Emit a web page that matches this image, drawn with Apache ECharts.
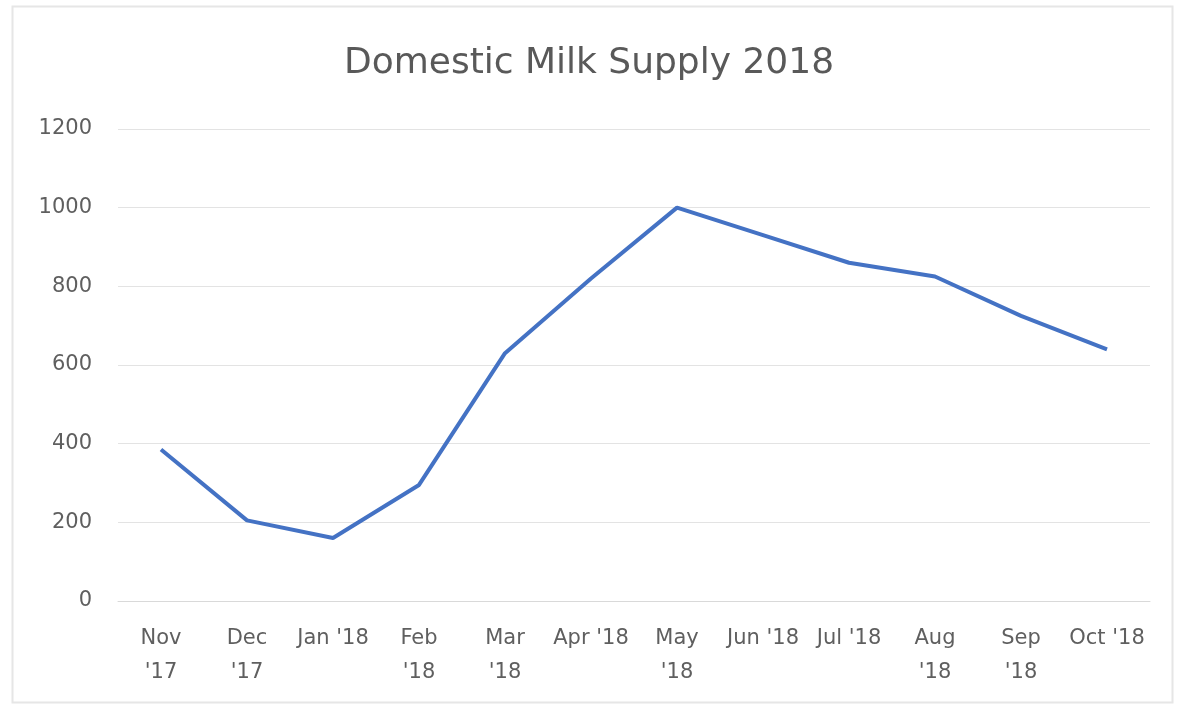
<!DOCTYPE html>
<html>
<head>
<meta charset="utf-8">
<script src="https://cdn.jsdelivr.net/npm/echarts@6/dist/echarts.min.js"></script>
<style>
html,body{margin:0;padding:0;background:#fff;}
#chart{width:1178px;height:710px;}
</style>
</head>
<body>
<div id="chart"></div>
<script>
const categories = ["Nov '17","Dec '17","Jan '18","Feb '18","Mar '18","Apr '18","May '18","Jun '18","Jul '18","Aug '18","Sep '18","Oct '18"];
const tickLabels = ["Nov\n'17","Dec\n'17","Jan '18","Feb\n'18","Mar\n'18","Apr '18","May\n'18","Jun '18","Jul '18","Aug\n'18","Sep\n'18","Oct '18"];
const supply = [385, 205, 160, 295, 630, 820, 1000, 930, 860, 825, 725, 640];
const yTicks = [0, 200, 400, 600, 800, 1000, 1200];

const chart = echarts.init(document.getElementById('chart'), null, {renderer:'canvas'});
const font = "'DejaVu Sans', sans-serif";
chart.setOption({
  backgroundColor: '#ffffff',
  animation: false,
  graphic: [{
    type: 'rect', left: 10, top: 4, shape: {width: 1160, height: 696},
    style: {fill: 'none', stroke: '#e6e6e6', lineWidth: 2}, silent: true, z: -1
  }],
  title: {
    text: 'Domestic Milk Supply 2018',
    left: 'center', top: 41,
    textStyle: {fontFamily: font, fontSize: 36, fontWeight: 'normal', color: '#595959'}
  },
  grid: {left: 118, right: 28, top: 129, bottom: 109, containLabel: false},
  xAxis: {
    type: 'category',
    data: categories,
    boundaryGap: true,
    axisLine: {show: true, lineStyle: {color: '#d9d9d9', width: 1}},
    axisTick: {show: false},
    axisLabel: {
      interval: 0, margin: 21, color: '#5f5f5f', fontFamily: font, fontSize: 21, lineHeight: 34,
      formatter: (v, i) => tickLabels[i]
    }
  },
  yAxis: {
    type: 'value', min: yTicks[0], max: yTicks[yTicks.length-1], interval: 200,
    axisLine: {show: false}, axisTick: {show: false},
    splitLine: {lineStyle: {color: '#e3e3e3', width: 1}},
    axisLabel: {margin: 26, color: '#5f5f5f', fontFamily: font, fontSize: 21,
      formatter: v => String(v)}
  },
  series: [{
    type: 'line', data: supply, showSymbol: false, symbol: 'none',
    lineStyle: {color: '#4472C4', width: 4}, itemStyle: {color: '#4472C4'}
  }]
});
</script>
</body>
</html>
